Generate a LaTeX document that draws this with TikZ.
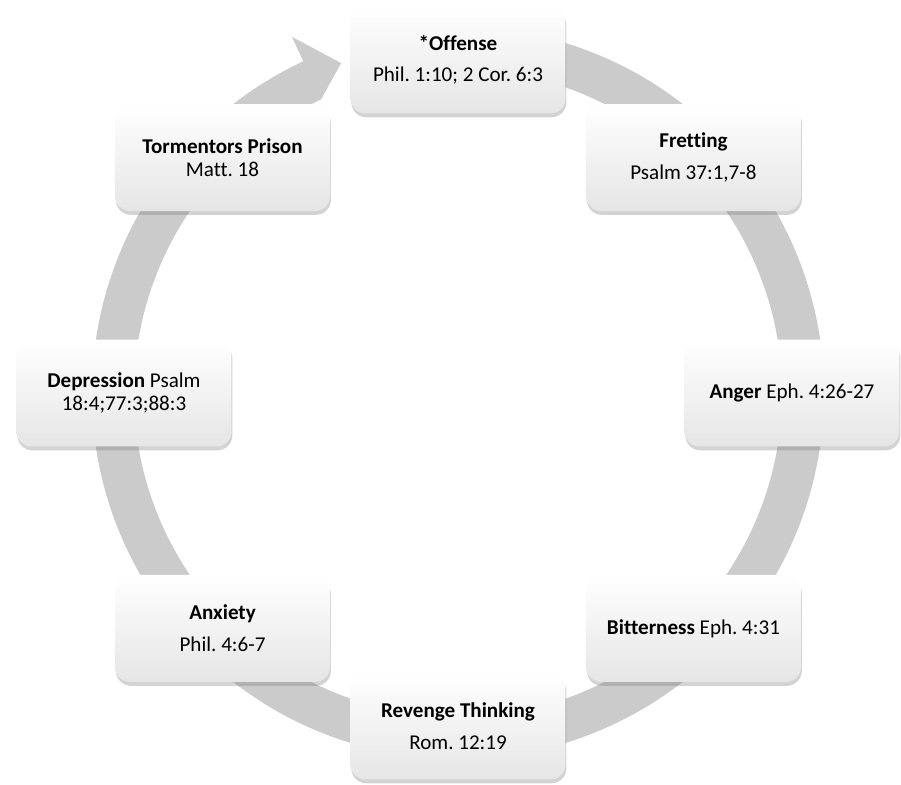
\documentclass[tikz,border=0pt]{standalone}
\usepackage{fontspec}
\setmainfont[Ligatures=NoCommon]{Carlito}
\usetikzlibrary{shadows}

\definecolor{ringgray}{HTML}{CBCBCB}
\frenchspacing

\begin{document}
\begin{tikzpicture}[x=0.02cm,y=0.02cm,
    stagebox/.style={rounded corners=0.3cm,minimum width=4.3cm,minimum height=2.14cm,
      top color=white,middle color=white,bottom color=gray!20,
      drop shadow={shadow xshift=0.5pt,shadow yshift=-2.2pt,opacity=0.35},
      align=center,font=\fontsize{12}{13}\selectfont,inner sep=4pt}]
  \useasboundingbox (-458,-391) rectangle (443,393);

  % Ring arrow
  \fill[ringgray] (80:366) arc[start angle=80,end angle=-245,radius=366]
    -- (115:393) -- (109.5:350) -- (115:324)
    arc[start angle=-245,end angle=80,radius=324] -- cycle;

  % Stages
  \node[stagebox] (offense) at (90:333) {\textbf{*Offense}\\[5pt]Phil. 1:10; 2 Cor. 6:3};
  \node[stagebox] (fretting) at (45:333) {\textbf{Fretting}\\[5pt]Psalm 37:1,7-8};
  \node[stagebox] (anger) at (0:334) {\textbf{Anger} Eph. 4:26-27};
  \node[stagebox] (bitterness) at (-45:333) {\textbf{Bitterness} Eph. 4:31};
  \node[stagebox] (revenge) at (-90:333) {\textbf{Revenge Thinking}\\[5pt]Rom. 12:19};
  \node[stagebox] (anxiety) at (-135:333) {\textbf{Anxiety}\\[5pt]Phil. 4:6-7};
  \node[stagebox] (depression) at (180:334) {\textbf{Depression} Psalm\\18:4;77:3;88:3};
  \node[stagebox] (prison) at (135:333) {\textbf{Tormentors Prison}\\Matt. 18};
\end{tikzpicture}
\end{document}
